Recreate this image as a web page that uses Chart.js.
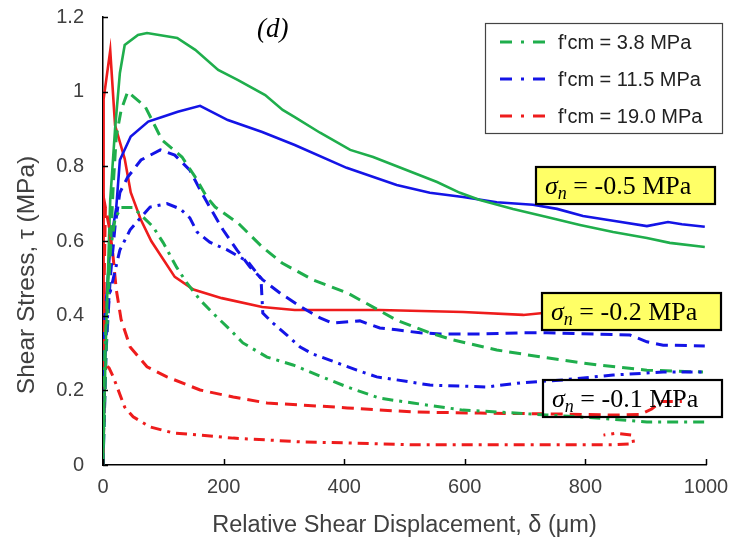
<!DOCTYPE html>
<html>
<head>
<meta charset="utf-8">
<script src="https://cdn.jsdelivr.net/npm/chart.js@4/dist/chart.umd.min.js"></script>
<style>
html,body{margin:0;padding:0;background:#fff;}
#wrap{position:relative;width:732px;height:553px;}
</style>
</head>
<body>
<div id="wrap"><canvas id="c" width="732" height="553"></canvas></div>
<script>
// ---- data ----
const xTicks = [0, 200, 400, 600, 800, 1000];
const yTicks = [0, 0.2, 0.4, 0.6, 0.8, 1, 1.2];
const legendLabels = ["f'cm = 3.8 MPa", "f'cm = 11.5 MPa", "f'cm = 19.0 MPa"];
const stressLabels = ["-0.5 MPa", "-0.2 MPa", "-0.1 MPa"];
const xTitle = 'Relative Shear Displacement, δ (μm)';
const yTitle = 'Shear Stress, τ (MPa)';

// f'cm = 3.8 MPa
const g05X = [0, 5, 12, 20, 28, 36, 58, 73, 123, 153, 191, 224, 269, 298, 318, 360, 410, 448, 554, 592, 625, 680, 736, 791, 846, 902, 940, 998];
const g05Y = [0, 0.35, 0.71, 0.9, 1.05, 1.125, 1.152, 1.157, 1.144, 1.112, 1.058, 1.031, 0.991, 0.951, 0.932, 0.89, 0.844, 0.825, 0.758, 0.729, 0.71, 0.686, 0.664, 0.643, 0.624, 0.608, 0.595, 0.584];
const g02X = [0, 5, 12, 17, 22, 30, 41, 70, 98, 131, 153, 172, 186, 224, 264, 297, 348, 405, 448, 487, 542, 581, 653, 736, 819, 902, 995];
const g02Y = [0, 0.3, 0.57, 0.75, 0.88, 0.95, 1.0, 0.96, 0.87, 0.825, 0.771, 0.718, 0.691, 0.648, 0.584, 0.541, 0.496, 0.461, 0.423, 0.388, 0.354, 0.335, 0.308, 0.287, 0.268, 0.254, 0.249];
const g01X = [0, 3, 10, 20, 30, 50, 83, 100, 122, 139, 161, 189, 211, 232, 272, 315, 348, 405, 459, 514, 597, 653, 736, 819, 902, 998];
const g01Y = [0, 0.3, 0.55, 0.66, 0.69, 0.69, 0.638, 0.595, 0.53, 0.488, 0.442, 0.396, 0.362, 0.327, 0.289, 0.268, 0.246, 0.209, 0.179, 0.166, 0.147, 0.142, 0.134, 0.126, 0.115, 0.115];

// f'cm = 11.5 MPa
const b05X = [0, 0, 3, 8, 13, 22, 28, 46, 75, 98, 124, 161, 207, 264, 318, 404, 487, 542, 597, 653, 713, 753, 796, 846, 902, 937, 960, 998];
const b05Y = [0, 0.28, 0.4, 0.5, 0.6, 0.69, 0.817, 0.88, 0.92, 0.932, 0.946, 0.962, 0.924, 0.892, 0.857, 0.796, 0.75, 0.729, 0.718, 0.704, 0.697, 0.686, 0.667, 0.654, 0.64, 0.651, 0.645, 0.638];
const b02X = [0, 5, 12, 20, 28, 41, 63, 95, 119, 144, 161, 177, 199, 222, 244, 265, 294, 327, 360, 381, 426, 459, 487, 526, 559, 625, 692, 736, 874, 902, 929, 998];
const b02Y = [0, 0.3, 0.5, 0.64, 0.73, 0.771, 0.817, 0.844, 0.83, 0.79, 0.737, 0.691, 0.63, 0.576, 0.53, 0.496, 0.46, 0.425, 0.394, 0.38, 0.386, 0.367, 0.362, 0.354, 0.351, 0.351, 0.354, 0.354, 0.348, 0.33, 0.321, 0.319];
const b01X = [0, 3, 10, 20, 28, 45, 78, 106, 128, 144, 156, 177, 206, 240, 262, 265, 282, 305, 327, 348, 376, 421, 454, 487, 542, 637, 692, 763, 846, 929, 993];
const b01Y = [0, 0.3, 0.45, 0.52, 0.576, 0.63, 0.691, 0.70, 0.686, 0.662, 0.624, 0.597, 0.576, 0.545, 0.50, 0.407, 0.38, 0.348, 0.316, 0.297, 0.281, 0.254, 0.236, 0.228, 0.214, 0.209, 0.22, 0.228, 0.241, 0.249, 0.249];

// f'cm = 19.0 MPa
const r05X = [0, 1, 12, 20, 36, 46, 63, 80, 119, 150, 197, 264, 318, 459, 597, 697, 730, 760];
const r05Y = [0, 0.98, 1.11, 0.91, 0.82, 0.73, 0.656, 0.6, 0.504, 0.47, 0.447, 0.423, 0.415, 0.415, 0.41, 0.402, 0.407, 0.41];
const r02X = [0, 2, 4, 10, 16, 22, 30, 45, 73, 106, 161, 216, 272, 327, 405, 514, 625, 736, 846, 890, 910, 925, 960];
const r02Y = [0, 0.5, 0.69, 0.64, 0.57, 0.47, 0.39, 0.316, 0.263, 0.236, 0.201, 0.182, 0.166, 0.161, 0.153, 0.142, 0.139, 0.137, 0.134, 0.135, 0.15, 0.17, 0.17];
const r01X = [0, 3, 10, 17, 36, 50, 78, 116, 161, 216, 272, 327, 405, 514, 625, 736, 846, 880, 878, 850, 830];
const r01Y = [0, 0.27, 0.26, 0.236, 0.155, 0.129, 0.102, 0.086, 0.08, 0.072, 0.067, 0.062, 0.059, 0.054, 0.054, 0.054, 0.054, 0.057, 0.08, 0.085, 0.08];

// ---- styles ----
const GREEN = '#1fae4c', BLUE = '#1414e6', RED = '#ee1c1c';
const DASH = [12, 7], DASHDOT = [11, 6, 3, 6];

function pts(xs, ys) { return xs.map((x, i) => ({x: x, y: ys[i]})); }
function ds(xs, ys, color, dash, w) {
  return {data: pts(xs, ys), borderColor: color, borderWidth: w, borderDash: dash,
          pointRadius: 0, tension: 0, fill: false, spanGaps: true};
}

const datasets = [
  ds(g01X, g01Y, GREEN, DASHDOT, 3),
  ds(b01X, b01Y, BLUE, DASHDOT, 3),
  ds(r01X, r01Y, RED, DASHDOT, 3),
  ds(g02X, g02Y, GREEN, DASH, 3),
  ds(b02X, b02Y, BLUE, DASH, 3),
  ds(r02X, r02Y, RED, DASH, 3),
  ds(g05X, g05Y, GREEN, [], 2.6),
  ds(b05X, b05Y, BLUE, [], 2.6),
  ds(r05X, r05Y, RED, [], 2.6)
];

const SANS = '"Liberation Sans", Arial, sans-serif';
const SERIF = '"Liberation Serif", "Times New Roman", serif';

const decor = {
  id: 'decor',
  afterDraw(chart) {
    const ctx = chart.ctx;
    const xs = chart.scales.x, ys = chart.scales.y;
    const ca = chart.chartArea;
    ctx.save();
    // inward tick marks
    ctx.strokeStyle = '#000'; ctx.lineWidth = 1.5; ctx.setLineDash([]);
    yTicks.forEach(v => {
      const py = Math.round(ys.getPixelForValue(v)) + 0.5;
      ctx.beginPath(); ctx.moveTo(ca.left, py); ctx.lineTo(ca.left + 5, py); ctx.stroke();
    });
    xTicks.forEach(v => {
      const px = Math.round(xs.getPixelForValue(v)) + 0.5;
      ctx.beginPath(); ctx.moveTo(px, ca.bottom); ctx.lineTo(px, ca.bottom - 6); ctx.stroke();
    });

    // y axis title
    ctx.save();
    ctx.translate(27, 275); ctx.rotate(-Math.PI / 2);
    ctx.font = '24.5px ' + SANS; ctx.fillStyle = '#404040';
    ctx.textAlign = 'center'; ctx.textBaseline = 'middle';
    ctx.fillText(yTitle, 0, 0);
    ctx.restore();

    // legend
    const lx = 485, ly = 23, lw = 237, lh = 110;
    ctx.fillStyle = '#fff'; ctx.fillRect(lx, ly, lw, lh);
    ctx.strokeStyle = '#444'; ctx.lineWidth = 1.2;
    ctx.strokeRect(lx + 0.5, ly + 0.5, lw, lh);
    const cols = [GREEN, BLUE, RED];
    const rows = [42, 79, 116];
    ctx.font = '20px ' + SANS; ctx.textBaseline = 'middle'; ctx.textAlign = 'left';
    legendLabels.forEach((t, i) => {
      ctx.strokeStyle = cols[i]; ctx.lineWidth = 3; ctx.setLineDash([12, 9, 3, 9]);
      ctx.beginPath(); ctx.moveTo(500, rows[i]); ctx.lineTo(546, rows[i]); ctx.stroke();
      ctx.setLineDash([]);
      ctx.fillStyle = '#222';
      ctx.fillText(t, 558, rows[i] + 1);
    });

    // sigma label boxes
    const boxes = [
      {x: 536, y: 167, w: 179, h: 37, fill: '#ffff66', tx: 545, base: 194},
      {x: 542, y: 293, w: 179, h: 37, fill: '#ffff66', tx: 551, base: 320},
      {x: 543, y: 380, w: 179, h: 37, fill: null, tx: 552, base: 407}
    ];
    boxes.forEach((b, i) => {
      if (b.fill) { ctx.fillStyle = b.fill; ctx.fillRect(b.x, b.y, b.w, b.h); }
      ctx.strokeStyle = '#000'; ctx.lineWidth = 2.2; ctx.setLineDash([]);
      ctx.strokeRect(b.x, b.y, b.w, b.h);
      ctx.fillStyle = '#000'; ctx.textBaseline = 'alphabetic';
      let x = b.tx;
      ctx.font = 'italic 26px ' + SERIF; ctx.fillText('σ', x, b.base); x += ctx.measureText('σ').width;
      ctx.font = 'italic 18px ' + SERIF; ctx.fillText('n', x, b.base + 5); x += ctx.measureText('n').width;
      ctx.font = '26px ' + SERIF; ctx.fillText(' = ' + stressLabels[i], x, b.base);
    });

    // panel label
    ctx.font = 'italic 27px ' + SERIF; ctx.fillStyle = '#000';
    ctx.fillText('(d)', 257, 37);
    ctx.restore();
  }
};

new Chart(document.getElementById('c'), {
  type: 'line',
  data: {datasets: datasets},
  options: {
    responsive: false,
    animation: false,
    layout: {padding: {top: 17, right: 26, left: 0, bottom: 0}},
    plugins: {legend: {display: false}, tooltip: {enabled: false}},
    scales: {
      x: {
        type: 'linear', min: 0, max: 1000,
        afterBuildTicks: s => { s.ticks = xTicks.map(v => ({value: v})); },
        afterFit: s => { s.height = 88; s.paddingLeft = 0; s.paddingRight = 0; },
        grid: {display: false, drawTicks: false},
        border: {display: true, color: '#000', width: 1.5},
        ticks: {font: {family: SANS, size: 20}, color: '#404040', padding: 10, maxRotation: 0,
                callback: v => String(v)},
        title: {display: true, text: xTitle, font: {family: SANS, size: 23.5},
                color: '#404040', padding: {top: 0, bottom: 13}}
      },
      y: {
        type: 'linear', min: 0, max: 1.2,
        afterBuildTicks: s => { s.ticks = yTicks.map(v => ({value: v})); },
        afterFit: s => { s.width = 103; s.paddingTop = 0; s.paddingBottom = 0; },
        grid: {display: false, drawTicks: false},
        border: {display: true, color: '#000', width: 1.5},
        ticks: {font: {family: SANS, size: 20}, color: '#404040', padding: 19,
                callback: v => String(Math.round(v * 10) / 10)},
        title: {display: false}
      }
    }
  },
  plugins: [decor]
});
</script>
</body>
</html>
